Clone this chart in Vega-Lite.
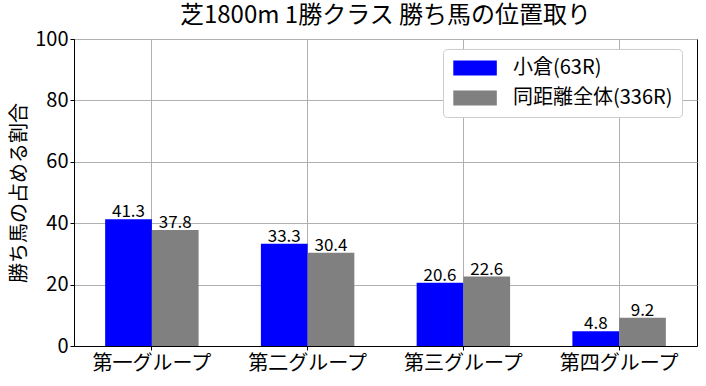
{
  "$schema": "https://vega.github.io/schema/vega-lite/v6.json",
  "width": 623,
  "height": 307,
  "autosize": {"type": "none"},
  "padding": {"left": 74, "top": 39, "right": 9, "bottom": 40},
  "title": {"text": "芝1800m 1勝クラス 勝ち馬の位置取り", "fontSize": 24, "font": "Noto Sans CJK JP", "fontWeight": "normal", "color": "#000", "offset": 1},
  "data": {"values": [
    {"group": "第一グループ", "series": "小倉(63R)", "value": 41.3},
    {"group": "第一グループ", "series": "同距離全体(336R)", "value": 37.8},
    {"group": "第二グループ", "series": "小倉(63R)", "value": 33.3},
    {"group": "第二グループ", "series": "同距離全体(336R)", "value": 30.4},
    {"group": "第三グループ", "series": "小倉(63R)", "value": 20.6},
    {"group": "第三グループ", "series": "同距離全体(336R)", "value": 22.6},
    {"group": "第四グループ", "series": "小倉(63R)", "value": 4.8},
    {"group": "第四グループ", "series": "同距離全体(336R)", "value": 9.2}
  ]},
  "encoding": {
    "x": {"field": "group", "type": "nominal", "sort": ["第一グループ", "第二グループ", "第三グループ", "第四グループ"],
      "scale": {"paddingInner": 0.4, "paddingOuter": 0.2},
      "axis": {"title": null, "labelAngle": 0, "bandPosition": 0.5, "grid": true, "labelFontSize": 20, "labelPadding": 3}},
    "xOffset": {"field": "series", "type": "nominal", "sort": ["小倉(63R)", "同距離全体(336R)"]},
    "y": {"field": "value", "type": "quantitative", "scale": {"domain": [0, 100], "nice": false},
      "axis": {"title": "勝ち馬の占める割合", "values": [0, 20, 40, 60, 80, 100], "labelFontSize": 20, "titleFontSize": 20, "titlePadding": 5, "grid": true}}
  },
  "layer": [
    {"mark": {"type": "bar"},
      "encoding": {"color": {"field": "series", "type": "nominal", "sort": ["小倉(63R)", "同距離全体(336R)"],
        "scale": {"domain": ["小倉(63R)", "同距離全体(336R)"], "range": ["#0000ff", "#808080"]},
        "legend": {"title": null, "orient": "none", "legendX": 369, "legendY": 10}}}},
    {"mark": {"type": "text", "baseline": "bottom", "fontSize": 17, "dy": 2, "color": "#000", "font": "Noto Sans CJK JP"},
      "encoding": {"text": {"field": "value", "type": "quantitative", "format": ".1f"}}}
  ],
  "config": {
    "font": "Noto Sans CJK JP",
    "view": {"stroke": "#000", "strokeWidth": 1},
    "axis": {"gridColor": "#b0b0b0", "gridWidth": 1, "gridOpacity": 1, "domainColor": "#000", "tickColor": "#000", "tickSize": 4, "labelColor": "#000", "titleColor": "#000", "titleFontWeight": "normal", "labelFont": "Noto Sans CJK JP", "titleFont": "Noto Sans CJK JP"},
    "legend": {"labelFontSize": 20, "labelFont": "Noto Sans CJK JP", "labelColor": "#000", "symbolType": "M-1,-0.85L4,-0.85L4,0.85L-1,0.85Z", "symbolSize": 303, "symbolStrokeWidth": 0, "symbolOpacity": 1, "strokeColor": "#cccccc", "fillColor": "#ffffff", "padding": 9, "cornerRadius": 4, "rowPadding": 10, "labelOffset": 41, "offset": 0}
  }
}
